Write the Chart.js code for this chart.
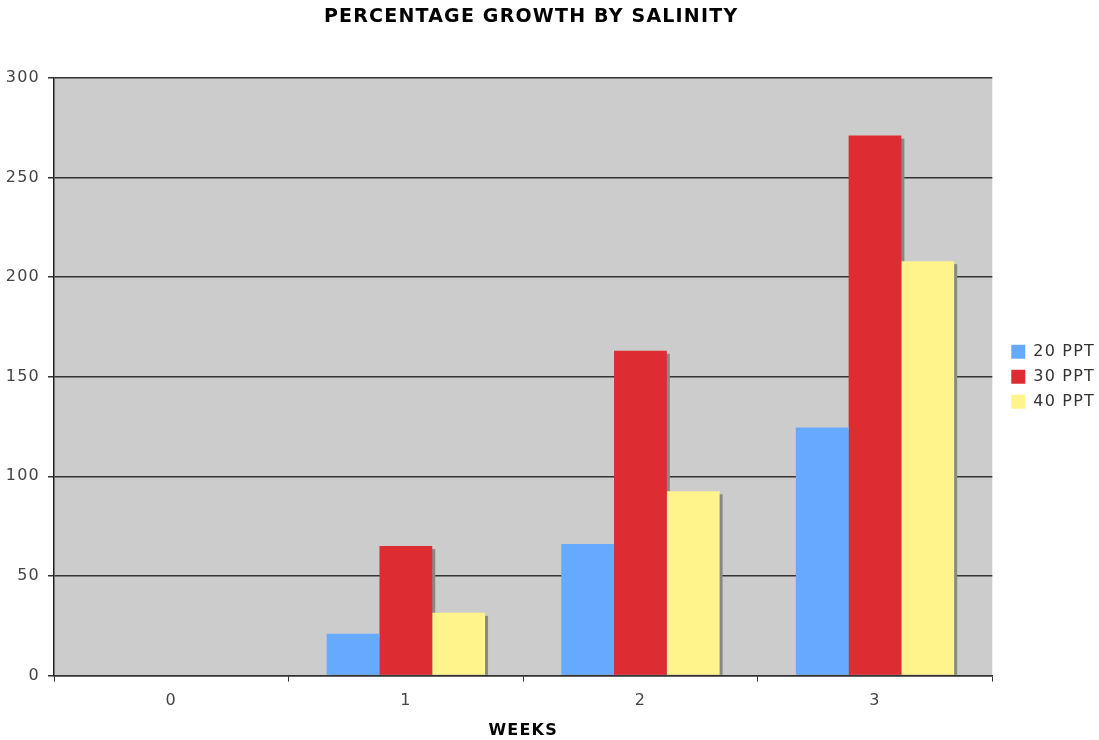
<!DOCTYPE html>
<html>
<head>
<meta charset="utf-8">
<script src="https://cdn.jsdelivr.net/npm/chart.js@4/dist/chart.umd.min.js"></script>
<style>
  html, body { margin: 0; padding: 0; background: #ffffff; }
  #wrap { width: 1099px; height: 740px; position: relative; }
</style>
</head>
<body>
<div id="wrap"><canvas id="c"></canvas></div>
<script>
// Weeks on the x axis
const weeks = ['0', '1', '2', '3'];
// Percentage growth per salinity level
const ppt20 = [0, 21, 66, 124.5];
const ppt30 = [0, 65, 163, 271];
const ppt40 = [0, 31.5, 92.5, 208];
const seriesNames = ['20 PPT', '30 PPT', '40 PPT'];
const yTicks = [0, 50, 100, 150, 200, 250, 300];

const FONT = '"DejaVu Sans", Verdana, sans-serif';
const SPACING = '1.2px';

// Slightly wider letter spacing for all canvas text
const wideText = {
  id: 'wideText',
  beforeUpdate(chart) { chart.ctx.letterSpacing = SPACING; },
  beforeLayout(chart) { chart.ctx.letterSpacing = SPACING; },
  beforeDraw(chart) { chart.ctx.letterSpacing = SPACING; },
  resize(chart) { chart.ctx.letterSpacing = SPACING; }
};

// Nudge the title and the legend after layout
const nudge = {
  id: 'nudge',
  afterLayout(chart) {
    if (chart.titleBlock) {
      chart.titleBlock.left += 8;
      chart.titleBlock.right += 8;
    }
    if (chart.legend) {
      chart.legend.left += 10;
      chart.legend.right += 10;
    }
  }
};

// Gray plot background
const plotBg = {
  id: 'plotBg',
  beforeDraw(chart) {
    const { ctx, chartArea: a } = chart;
    ctx.save();
    ctx.fillStyle = '#cccccc';
    ctx.fillRect(a.left, a.top, a.right - a.left, a.bottom - a.top);
    ctx.restore();
  }
};

// Drop shadow behind every bar
const barShadow = {
  id: 'barShadow',
  beforeDatasetsDraw(chart) {
    const { ctx, chartArea: a } = chart;
    ctx.save();
    ctx.beginPath();
    ctx.rect(a.left, a.top, a.right - a.left, a.bottom - a.top);
    ctx.clip();
    ctx.fillStyle = '#888888';
    chart.data.datasets.forEach((ds, i) => {
      const meta = chart.getDatasetMeta(i);
      meta.data.forEach(bar => {
        const p = bar.getProps(['x', 'y', 'base', 'width'], true);
        const h = p.base - p.y;
        if (h <= 0.5) return;
        ctx.fillRect(p.x - p.width / 2 + 3, p.y + 3, p.width, h - 3);
      });
    });
    ctx.restore();
  }
};

new Chart(document.getElementById('c'), {
  type: 'bar',
  data: {
    labels: weeks,
    datasets: [
      { label: seriesNames[0], data: ppt20, backgroundColor: '#66aaff' },
      { label: seriesNames[1], data: ppt30, backgroundColor: '#dd2c32' },
      { label: seriesNames[2], data: ppt40, backgroundColor: '#fff38c' }
    ]
  },
  options: {
    responsive: true,
    maintainAspectRatio: false,
    animation: false,
    layout: { padding: { left: 6, right: 4, top: 0, bottom: 0 } },
    datasets: { bar: { categoryPercentage: 0.675, barPercentage: 1.0 } },
    plugins: {
      title: {
        display: true,
        text: 'PERCENTAGE GROWTH BY SALINITY',
        fullSize: false,
        color: '#000000',
        font: { family: FONT, size: 19, weight: 'bold' },
        padding: { top: 6, bottom: 49 }
      },
      legend: {
        position: 'right',
        align: 'center',
        fullSize: false,
        labels: {
          color: '#333333',
          font: { family: FONT, size: 16 },
          boxWidth: 14,
          boxHeight: 14,
          padding: 9
        }
      },
      tooltip: { enabled: false }
    },
    scales: {
      x: {
        grid: {
          offset: true,
          drawOnChartArea: false,
          drawTicks: true,
          tickLength: 6,
          color: '#333333'
        },
        border: { display: true, color: '#333333', width: 1.5 },
        ticks: {
          color: '#444444',
          font: { family: FONT, size: 16 },
          padding: 10
        },
        title: {
          display: true,
          text: 'WEEKS',
          color: '#000000',
          font: { family: FONT, size: 16, weight: 'bold' },
          padding: { top: 0, bottom: 0 }
        }
      },
      y: {
        min: 0,
        max: 300,
        afterBuildTicks(axis) { axis.ticks = yTicks.map(v => ({ value: v })); },
        afterFit(axis) { axis.width = 48; },
        grid: {
          color: '#333333',
          lineWidth: 1.5,
          drawTicks: true,
          tickLength: 6
        },
        border: { display: true, color: '#222222', width: 1.5 },
        ticks: {
          color: '#444444',
          font: { family: FONT, size: 16 },
          padding: 8
        }
      }
    }
  },
  plugins: [wideText, nudge, plotBg, barShadow]
});
</script>
</body>
</html>
